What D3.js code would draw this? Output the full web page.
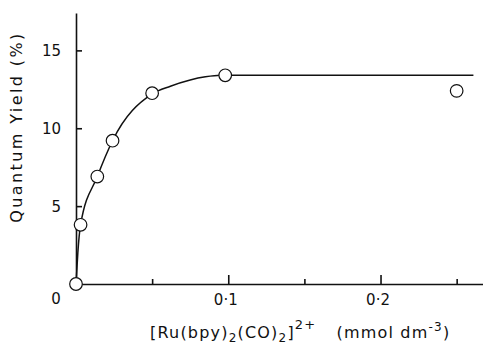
<!DOCTYPE html>
<html>
<head>
<meta charset="utf-8">
<script src="https://cdn.jsdelivr.net/npm/d3@7"></script>
<style>
  body { margin: 0; background: #fff; }
  svg { display: block; }
  text { font-family: "DejaVu Sans", sans-serif; fill: #111; }
  .axis path, .axis line { stroke: #111; stroke-width: 1.6; }
</style>
</head>
<body>
<div id="vis"></div>
<script>
// measured points (concentration mmol dm-3, quantum yield %)
var concs = [0, 0.003, 0.014, 0.024, 0.05, 0.098, 0.25];
var yields = [0, 3.8, 6.9, 9.2, 12.25, 13.4, 12.4];

// hand-drawn fit curve
var curveX = [0, 0.0012, 0.003, 0.014, 0.024, 0.05, 0.062, 0.075, 0.085, 0.095, 0.261];
var curveY = [0, 2.0, 3.8, 6.9, 9.2, 12.2, 12.7, 13.1, 13.3, 13.4, 13.4];

var xMajor = [0.1, 0.2];
var xMinor = [0.05, 0.15, 0.25];
var yTicks = [5, 10, 15];

var W = 483, H = 346;
var svg = d3.select("#vis").append("svg")
    .attr("width", W)
    .attr("height", H);

//scales
var x = d3.scaleLinear().domain([0, 0.2673]).range([76, 483]);
var y = d3.scaleLinear().domain([0, 17.4]).range([284, 13]);

//y axis, ticks point inward
svg.append("g")
    .attr("class", "axis")
    .attr("transform", "translate(" + x(0) + ",0)")
    .call(d3.axisLeft(y).tickValues(yTicks).tickSizeInner(-6).tickSizeOuter(0).tickPadding(15))
    .call(function(g){ g.selectAll("text").style("font-size", "15px").attr("dy", "0.36em"); });

//x axis line with upward ticks
svg.append("g")
    .attr("class", "axis")
    .attr("transform", "translate(0," + y(0) + ")")
    .call(d3.axisBottom(x).tickValues(xMajor).tickSizeInner(-9).tickSizeOuter(0).tickPadding(0)
        .tickFormat(function(d){ return d3.format(".1f")(d).replace(".", "\u00b7"); }))
    .call(function(g){ g.selectAll("text").style("font-size", "15px").attr("x", -3).attr("y", 10).attr("dy", "0.71em"); });

svg.append("g")
    .attr("class", "axis")
    .attr("transform", "translate(0," + y(0) + ")")
    .call(d3.axisBottom(x).tickValues(xMinor).tickSizeInner(-5).tickSizeOuter(0).tickFormat(""))
    .call(function(g){ g.select(".domain").remove(); });

//origin label sits below the corner
svg.append("text")
    .attr("x", 56)
    .attr("y", y(0) + 20)
    .attr("text-anchor", "middle")
    .style("font-size", "15px")
    .text("0");

//fit curve
var line = d3.line()
    .curve(d3.curveMonotoneX)
    .x(function(d, i){ return x(curveX[i]); })
    .y(function(d, i){ return y(curveY[i]); });

svg.append("path")
    .attr("d", line(curveX))
    .attr("fill", "none")
    .attr("stroke", "#111")
    .attr("stroke-width", 1.5);

//data circles
svg.selectAll("circle")
    .data(concs)
    .enter().append("circle")
    .attr("cx", function(d){ return x(d); })
    .attr("cy", function(d, i){ return y(yields[i]); })
    .attr("r", 6.3)
    .attr("fill", "#fff")
    .attr("stroke", "#111")
    .attr("stroke-width", 1.2);

//y label
svg.append("text")
    .attr("transform", "translate(22,127) rotate(-90)")
    .attr("text-anchor", "middle")
    .style("font-size", "16px")
    .style("letter-spacing", "2.4px")
    .text("Quantum Yield (%)");

//x label with sub/superscripts
var xl = svg.append("text")
    .attr("x", 150)
    .attr("y", 338)
    .style("font-size", "16px")
    .style("letter-spacing", "1.2px");
xl.append("tspan").text("[Ru(bpy)");
xl.append("tspan").attr("dy", 4).style("font-size", "12px").text("2");
xl.append("tspan").attr("dy", -4).text("(CO)");
xl.append("tspan").attr("dy", 4).style("font-size", "12px").text("2");
xl.append("tspan").attr("dy", -4).text("]");
xl.append("tspan").attr("dy", -9).style("font-size", "13px").text("2+");
xl.append("tspan").attr("dy", 9).attr("dx", 20).text("(mmol dm");
xl.append("tspan").attr("dy", -7).style("font-size", "12px").text("-3");
xl.append("tspan").attr("dy", 7).text(")");
</script>
</body>
</html>
